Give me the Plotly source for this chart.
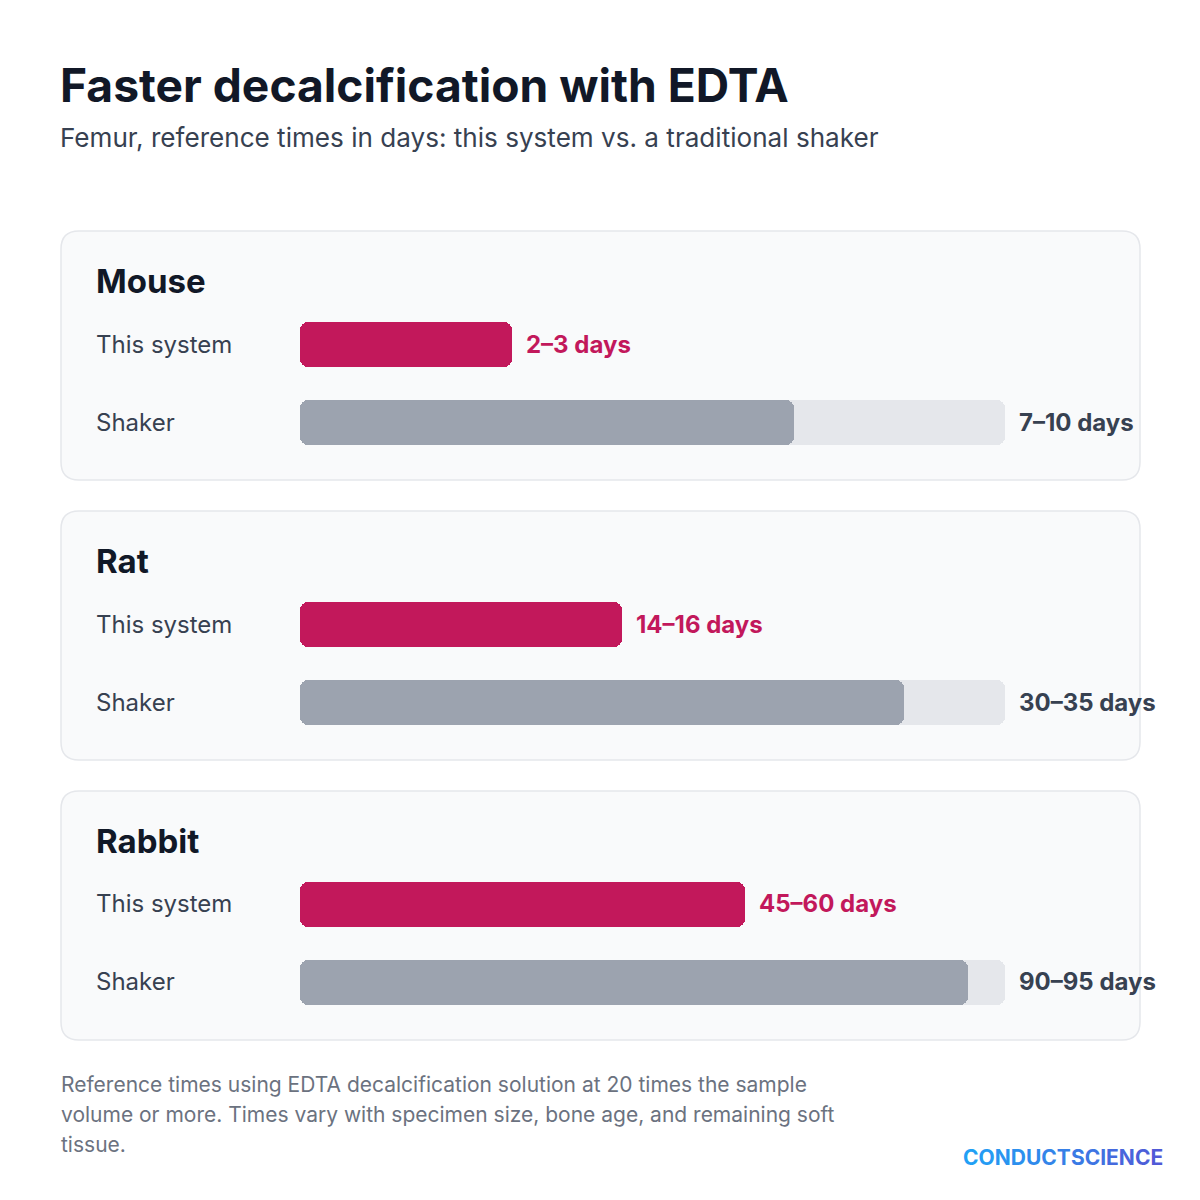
import plotly.graph_objects as go

# data
species = ["Mouse", "Rat", "Rabbit"]
system_low = [2, 14, 45]
system_high = [3, 16, 60]
shaker_low = [7, 30, 90]
shaker_high = [10, 35, 95]
row_labels = ["This system", "Shaker"]

W, H = 1200, 1200
OFF = 8  # page body margin
CRIMSON = "#C2185B"
GREY_BAR = "#9CA3AF"
TRACK = "#E5E7EB"
DARK = "#111827"
TEXT = "#374151"
FONT = "Inter"


def px(x):
    return (x - OFF) / W


def py(y):
    return 1 - (y - OFF) / H


def card_path(x0, y0, x1, y1, r):
    # rounded rectangle, pixel coords -> paper coords
    a, b, c, d = px(x0), py(y0), px(x1), py(y1)
    rx, ry = r / W, r / H
    return (f"M {a+rx},{b} L {c-rx},{b} Q {c},{b} {c},{b-ry} "
            f"L {c},{d+ry} Q {c},{d} {c-rx},{d} L {a+rx},{d} "
            f"Q {a},{d} {a},{d+ry} L {a},{b-ry} Q {a},{b} {a+rx},{b} Z")


fig = go.Figure()


def add_round_bar(value, ypos, color, xa, ya, hover=None):
    # two overlapping halves so both ends get rounded corners
    hv = dict(hoverinfo="skip") if hover is None else dict(hovertemplate=hover + "<extra></extra>")
    fig.add_trace(go.Bar(x=[value * 0.6], base=[value * 0.4], y=[ypos], orientation="h",
                         width=0.577, marker=dict(color=color, cornerradius=8, line=dict(width=0)),
                         xaxis=xa, yaxis=ya, showlegend=False, **hv))
    fig.add_trace(go.Bar(x=[-value * 0.6], base=[value * 0.6], y=[ypos], orientation="h",
                         width=0.577, marker=dict(color=color, cornerradius=8, line=dict(width=0)),
                         xaxis=xa, yaxis=ya, showlegend=False, **hv))


shapes = []
annotations = []

card_tops = [231, 511, 791]
card_h = 249
bar_x0, bar_x1 = 300, 1005

for i, name in enumerate(species):
    top = card_tops[i]
    n = "" if i == 0 else str(i + 1)
    xa, ya = "x" + n, "y" + n
    vmax = shaker_high[i]

    shapes.append(dict(type="path", xref="paper", yref="paper",
                       path=card_path(61, top, 1140, top + card_h, 18),
                       fillcolor="#F9FAFB", line=dict(color="#E5E7EB", width=1.5),
                       layer="below"))

    add_round_bar(shaker_high[i], 0, TRACK, xa, ya)
    add_round_bar(shaker_low[i], 0, GREY_BAR, xa, ya,
                  f"Shaker: {shaker_low[i]}–{shaker_high[i]} days")
    add_round_bar(system_high[i], 1, CRIMSON, xa, ya,
                  f"This system: {system_low[i]}–{system_high[i]} days")

    dom_top = top + 74
    dom_bot = top + 230
    fig.layout["xaxis" + n] = dict(domain=[px(bar_x0), px(bar_x1)], range=[0, vmax],
                                   anchor=ya, visible=False, fixedrange=True)
    fig.layout["yaxis" + n] = dict(domain=[py(dom_bot), py(dom_top)], range=[-0.5, 1.5],
                                   anchor=xa, visible=False, fixedrange=True)

    annotations.append(dict(x=px(94), y=py(top + 50), xref="paper", yref="paper",
                            text=name, showarrow=False, xanchor="left", yanchor="middle",
                            font=dict(family=FONT, size=33, color=DARK, weight=700)))
    for j, lab in enumerate(row_labels):
        annotations.append(dict(x=px(94), y=1 - j, xref="paper", yref=ya,
                                text=lab, showarrow=False, xanchor="left", yanchor="middle",
                                font=dict(family=FONT, size=24, color=TEXT)))
    annotations.append(dict(x=system_high[i], y=1, xref=xa, yref=ya, xshift=12,
                            text=f"{system_low[i]}–{system_high[i]} days",
                            showarrow=False, xanchor="left", yanchor="middle",
                            font=dict(family=FONT, size=24, color=CRIMSON, weight=700)))
    annotations.append(dict(x=shaker_high[i], y=0, xref=xa, yref=ya, xshift=12,
                            text=f"{shaker_low[i]}–{shaker_high[i]} days",
                            showarrow=False, xanchor="left", yanchor="middle",
                            font=dict(family=FONT, size=24, color=TEXT, weight=700)))

footnote = [
    "Reference times using EDTA decalcification solution at 20 times the sample",
    "volume or more. Times vary with specimen size, bone age, and remaining soft",
    "tissue.",
]

annotations += [
    dict(x=px(58), y=py(85), xref="paper", yref="paper", showarrow=False,
         text="Faster decalcification with EDTA", xanchor="left", yanchor="middle",
         font=dict(family=FONT, size=46.2, color=DARK, weight=700)),
    dict(x=px(58), y=py(137), xref="paper", yref="paper", showarrow=False,
         text="Femur, reference times in days: this system vs. a traditional shaker",
         xanchor="left", yanchor="middle",
         font=dict(family=FONT, size=26.1, color=TEXT)),
]
for k, line in enumerate(footnote):
    annotations.append(dict(x=px(59), y=py(1084 + 30 * k), xref="paper", yref="paper",
                            showarrow=False, text=line, xanchor="left", yanchor="middle",
                            font=dict(family=FONT, size=21, color="#6B7280")))

# logo: blue gradient across the letters
logo = "CONDUCTSCIENCE"
c0, c1 = (33, 160, 245), (80, 90, 215)
spans = []
for k, ch in enumerate(logo):
    t = k / (len(logo) - 1)
    r, g, b = (round(c0[m] + (c1[m] - c0[m]) * t) for m in range(3))
    spans.append(f"<span style='color:rgb({r},{g},{b})'>{ch}</span>")
annotations.append(dict(x=px(1165), y=py(1157), xref="paper", yref="paper", showarrow=False,
                        text="".join(spans), xanchor="right", yanchor="middle",
                        font=dict(family=FONT, size=21, weight=700)))

fig.update_layout(
    width=W, height=H,
    margin=dict(l=0, r=0, t=0, b=0),
    paper_bgcolor="white", plot_bgcolor="rgba(0,0,0,0)",
    barmode="overlay", bargap=0,
    shapes=shapes, annotations=annotations,
    showlegend=False,
)

fig.write_html("out.html")
